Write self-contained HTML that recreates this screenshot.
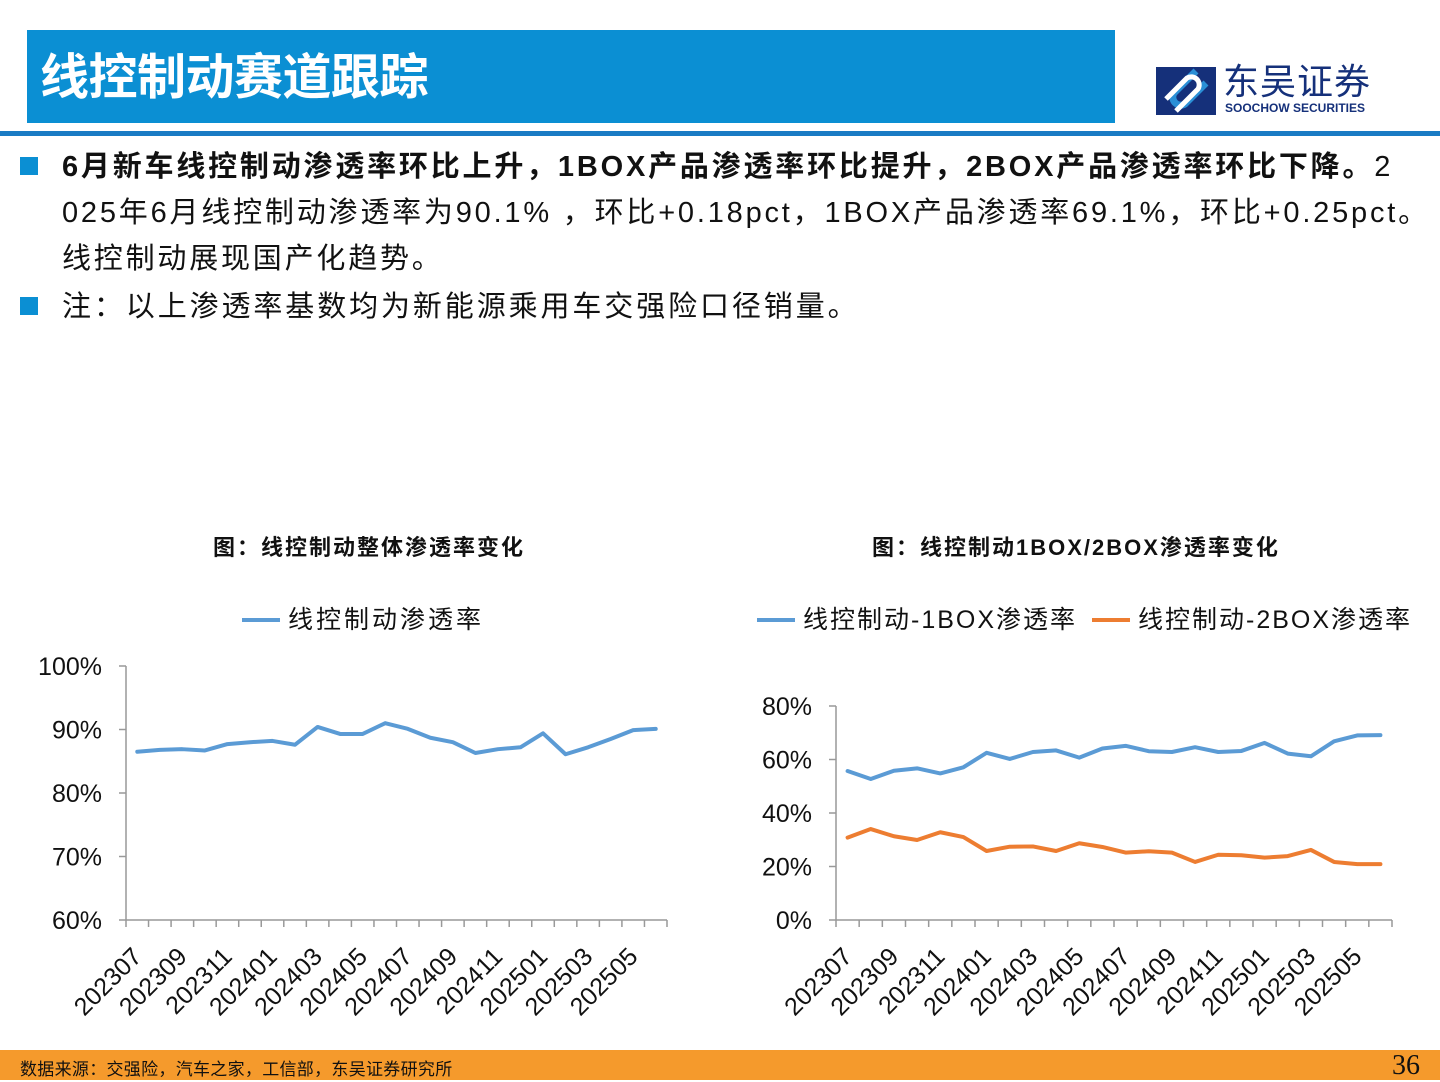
<!DOCTYPE html>
<html><head><meta charset="utf-8"><style>
body{margin:0;width:1440px;height:1080px;position:relative;background:#fff;font-family:"Liberation Sans","Noto Sans CJK SC",sans-serif;overflow:hidden}
.abs{position:absolute}
</style></head><body>
<div class="abs" style="left:27px;top:30px;width:1088px;height:93px;background:#0b8fd3"></div>
<div class="abs" style="left:40px;top:48px;font-size:49px;line-height:60px;font-weight:bold;color:#fff;letter-spacing:-0.5px">线控制动赛道跟踪</div>
<div class="abs" style="left:0;top:131px;width:1440px;height:5px;background:#1a7bc4"></div>
<svg class="abs" style="left:1156px;top:67px" width="60" height="48" viewBox="0 0 60 48">
<rect x="0" y="0" width="60" height="48" fill="#15307a"/>
<path d="M40 4 L18 26 a8 8 0 0 0 11 11 L50 16" stroke="#2a8fd6" stroke-width="7" fill="none"/>
<path d="M20 44 L42 22 a8 8 0 0 0 -11 -11 L10 32" stroke="#fff" stroke-width="5" fill="none"/>
</svg>
<div class="abs" style="left:1223px;top:64px;font-size:36px;line-height:36px;color:#15307a;letter-spacing:1px">东吴证券</div>
<div class="abs" style="left:1225px;top:102px;font-size:12px;line-height:13px;font-weight:bold;color:#15307a">SOOCHOW SECURITIES</div>

<div class="abs" style="left:20px;top:157px;width:18px;height:18px;background:#0b8fd3"></div>
<div class="abs" style="left:62px;top:144px;width:1378px;white-space:nowrap;font-size:29px;line-height:46px;color:#111;letter-spacing:2.8px"><b>6月新车线控制动渗透率环比上升，1BOX产品渗透率环比提升，2BOX产品渗透率环比下降。</b>2<br>025年6月线控制动渗透率为90.1% ，环比+0.18pct，1BOX产品渗透率69.1%，环比+0.25pct。<br>线控制动展现国产化趋势。</div>
<div class="abs" style="left:20px;top:297px;width:18px;height:18px;background:#0b8fd3"></div>
<div class="abs" style="left:62px;top:284px;font-size:29px;line-height:46px;color:#111;letter-spacing:2.9px">注：以上渗透率基数均为新能源乘用车交强险口径销量。</div>

<div class="abs" style="left:213px;top:530px;font-size:22px;font-weight:bold;color:#111;letter-spacing:2px">图：线控制动整体渗透率变化</div>
<div class="abs" style="left:872px;top:530px;font-size:22px;font-weight:bold;color:#111;letter-spacing:2px">图：线控制动1BOX/2BOX渗透率变化</div>

<svg id="charts" class="abs" style="left:0;top:0" width="1440" height="1050"></svg>

<div class="abs" style="left:0;top:1050px;width:1440px;height:30px;background:#f59a2c"></div>
<div class="abs" style="left:20px;top:1055px;font-size:17px;color:#111;letter-spacing:0.3px">数据来源：交强险，汽车之家，工信部，东吴证券研究所</div>
<div class="abs" style="left:1392px;top:1050px;font-size:28px;font-family:'Liberation Serif',serif;color:#111">36</div>

<script>
const months=["202307","202308","202309","202310","202311","202312","202401","202402","202403","202404","202405","202406","202407","202408","202409","202410","202411","202412","202501","202502","202503","202504","202505","202506"];
const totalRate=[86.5,86.8,86.9,86.7,87.7,88.0,88.2,87.6,90.4,89.3,89.3,91.0,90.1,88.7,88.0,86.3,86.9,87.2,89.4,86.1,87.2,88.5,89.9,90.1];
const box1Rate=[55.7,52.7,55.8,56.7,54.8,57.1,62.5,60.2,62.8,63.4,60.7,64.1,65.1,63.1,62.8,64.6,62.8,63.2,66.2,62.2,61.2,66.8,69.0,69.1];
const box2Rate=[30.8,34.0,31.3,29.9,32.8,31.0,25.8,27.4,27.5,25.8,28.7,27.3,25.2,25.7,25.2,21.7,24.4,24.2,23.3,23.9,26.2,21.7,20.9,20.9];
const leftTicks=[60,70,80,90,100];
const rightTicks=[0,20,40,60,80];

const svg=document.getElementById('charts');
const NS='http://www.w3.org/2000/svg';
function mk(t,a,parent){const e=document.createElementNS(NS,t);for(const k in a)e.setAttribute(k,a[k]);(parent||svg).appendChild(e);return e;}

function chart(o){
  const g=mk('g',{});
  
  
  const n=months.length, step=(o.x1-o.x0)/n;
  const xs=i=>o.x0+step*(i+0.5);
  const ys=v=>o.yb-(v-o.min)/(o.max-o.min)*(o.yb-o.yt);
  mk('line',{x1:o.x0,y1:o.yt,x2:o.x0,y2:o.yb,stroke:'#999','stroke-width':1.5},g);
  mk('line',{x1:o.x0,y1:o.yb,x2:o.x1,y2:o.yb,stroke:'#999','stroke-width':1.5},g);
  o.ticks.forEach(v=>{
    mk('line',{x1:o.x0-7,y1:ys(v),x2:o.x0,y2:ys(v),stroke:'#999','stroke-width':1.5},g);
    const t=mk('text',{x:o.x0-24,y:ys(v)+9,'text-anchor':'end','font-size':25,fill:'#111'},g);
    
    
    t.textContent=v+'%';
  });
  for(let i=0;i<=n;i++) mk('line',{x1:o.x0+step*i,y1:o.yb,x2:o.x0+step*i,y2:o.yb+7,stroke:'#999','stroke-width':1.5},g);
  months.forEach((m,i)=>{ if(i%2) return;
    const x=xs(i)+6,y=o.yb+38;
    const t=mk('text',{x:x,y:y,'text-anchor':'end','font-size':25,fill:'#111',transform:`rotate(-45 ${x} ${y})`},g);
    
    
    t.textContent=m;
  });
  o.series.forEach(s=>{
    const p=mk('polyline',{points:s.data.map((v,i)=>xs(i)+','+ys(v)).join(' '),fill:'none',stroke:s.color,'stroke-width':4,'stroke-linejoin':'round','stroke-linecap':'round'},g);
    
    
  });
  o.legend.forEach(l=>{
    const ll=mk('line',{x1:l.x,y1:620,x2:l.x+38,y2:620,stroke:l.color,'stroke-width':4},g);
    
    
    const t=mk('text',{x:l.x+46,y:628,'font-size':25,fill:'#111','letter-spacing':l.ls},g);
    
    
    t.textContent=l.label;
  });
}
chart({name:'overall-rate-chart',x0:126,x1:667,yt:666,yb:920,min:60,max:100,ticks:leftTicks,
  series:[{name:'line-total-rate',data:totalRate,color:'#5b9bd5'}],
  legend:[{x:242,label:'线控制动渗透率',color:'#5b9bd5',ls:3}]});
chart({name:'box-rate-chart',x0:836,x1:1392,yt:706,yb:920,min:0,max:80,ticks:rightTicks,
  series:[{name:'line-1box-rate',data:box1Rate,color:'#5b9bd5'},{name:'line-2box-rate',data:box2Rate,color:'#ed7d31'}],
  legend:[{x:757,label:'线控制动-1BOX渗透率',color:'#5b9bd5',ls:2},{x:1092,label:'线控制动-2BOX渗透率',color:'#ed7d31',ls:2}]});
</script>
</body></html>
